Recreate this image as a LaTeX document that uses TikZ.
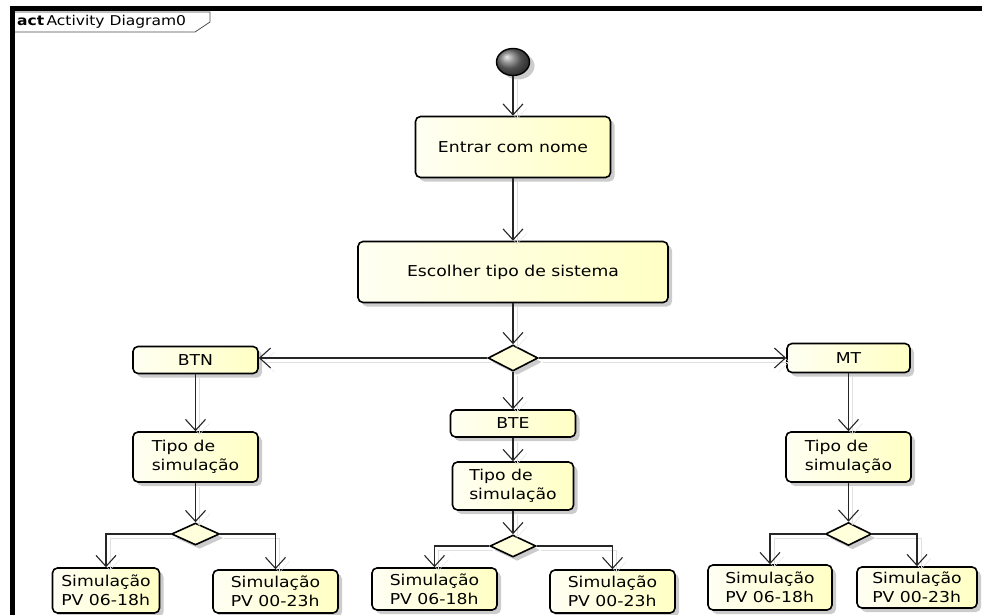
\documentclass[tikz,border=0pt]{standalone}
\usepackage{fontspec}
\setmainfont{DejaVu Sans}[FakeStretch=1.15]
\usetikzlibrary{arrows.meta,shapes.geometric,shadows}
\definecolor{actL}{HTML}{FFFFF3}
\definecolor{actR}{HTML}{FFFFC4}
\definecolor{decFill}{HTML}{FFFFDC}

\begin{document}
\begin{tikzpicture}[x=1pt,y=-1pt,
  action/.style={draw=black,line width=1.6pt,rounded corners=5pt,left color=actL,right color=actR,
    drop shadow={shadow xshift=4pt,shadow yshift=-4pt,opacity=0.2,fill=black},
    inner sep=0pt,font=\fontsize{15}{19}\selectfont},
  decision/.style={diamond,draw=black,line width=1.6pt,fill=decFill,inner sep=0pt,
    drop shadow={shadow xshift=4pt,shadow yshift=-4pt,opacity=0.2,fill=black}},
  flow/.style={draw=black!85,line width=1.1pt,-{Straight Barb[length=11pt,width=20pt]},
    preaction={draw=black!12,transform canvas={shift={(4pt,-4pt)}}}}]
\useasboundingbox (0,0) rectangle (982,615);

% Frame
\draw[line width=5pt] (12.5,615) -- (12.5,9) -- (982,9);
\draw[fill=white,draw=black!70,line width=0.8pt] (15,12) -- (210,12) -- (210,22) -- (195,32) -- (15,32);
\node[anchor=west,inner sep=0pt,font=\fontsize{13.5}{15}\selectfont] (title) at (17,21.5) {\textbf{act}\,Activity Diagram0};

% Start
\node[ellipse,draw=black,line width=1.4pt,minimum width=33pt,minimum height=27pt,
  shading=ball,ball color=black!55,drop shadow={shadow xshift=5pt,shadow yshift=-4pt,opacity=0.2,fill=black}] (start) at (513,62) {};

% Actions
\node[action,minimum width=195pt,minimum height=61pt] (entrar) at (513,147) {Entrar com nome};
\node[action,minimum width=310pt,minimum height=61pt] (escolher) at (513,272) {Escolher tipo de sistema};
\node[decision,minimum width=50pt,minimum height=26pt] (dec) at (513,358) {};

% Systems
\node[action,minimum width=125pt,minimum height=27pt] (btn) at (195.5,360) {BTN};
\node[action,minimum width=125pt,minimum height=27pt] (bte) at (513,423.5) {BTE};
\node[action,minimum width=123pt,minimum height=29pt] (mt) at (848.5,358) {MT};

% Simulation type
\node[action,minimum width=125pt,minimum height=50pt,align=left] (tipoN) at (195.5,457) {Tipo de\\simulação};
\node[action,minimum width=121pt,minimum height=48pt,align=left] (tipoE) at (513,486) {Tipo de\\simulação};
\node[action,minimum width=125pt,minimum height=50pt,align=left] (tipoM) at (848.5,457) {Tipo de\\simulação};

\node[decision,minimum width=48pt,minimum height=22pt] (decN) at (195.5,534) {};
\node[decision,minimum width=46pt,minimum height=22pt] (decE) at (513,546) {};
\node[decision,minimum width=46pt,minimum height=23pt] (decM) at (848.5,534) {};

% Results
\node[action,minimum width=107pt,minimum height=45pt,align=left] (simN1) at (106,590.5) {Simulação\\PV 06-18h};
\node[action,minimum width=125pt,minimum height=43pt,align=left] (simN2) at (275.5,591.5) {Simulação\\PV 00-23h};
\node[action,minimum width=125pt,minimum height=42pt,align=left] (simE1) at (434.5,589) {Simulação\\PV 06-18h};
\node[action,minimum width=125pt,minimum height=43pt,align=left] (simE2) at (612.5,591.5) {Simulação\\PV 00-23h};
\node[action,minimum width=124pt,minimum height=45pt,align=left] (simM1) at (770,587.5) {Simulação\\PV 06-18h};
\node[action,minimum width=120pt,minimum height=41pt,align=left] (simM2) at (917,587.5) {Simulação\\PV 00-23h};

% Flows
\draw[flow] (start) -- (entrar);
\draw[flow] (entrar) -- (escolher);
\draw[flow] (escolher) -- (dec);
\draw[flow] (dec.west) -- (dec.west -| btn.east);
\draw[flow] (dec.east) -- (dec.east -| mt.west);
\draw[flow] (dec.south) -- (bte.north);

\draw[flow] (btn) -- (tipoN);
\draw[flow] (tipoN) -- (decN);
\draw[flow] (decN.west) -| (simN1.north);
\draw[flow] (decN.east) -| (simN2.north);

\draw[flow] (bte) -- (tipoE);
\draw[flow] (tipoE) -- (decE);
\draw[flow] (decE.west) -| (simE1.north);
\draw[flow] (decE.east) -| (simE2.north);

\draw[flow] (mt) -- (tipoM);
\draw[flow] (tipoM) -- (decM);
\draw[flow] (decM.west) -| (simM1.north);
\draw[flow] (decM.east) -| (simM2.north);

\end{tikzpicture}
\end{document}
